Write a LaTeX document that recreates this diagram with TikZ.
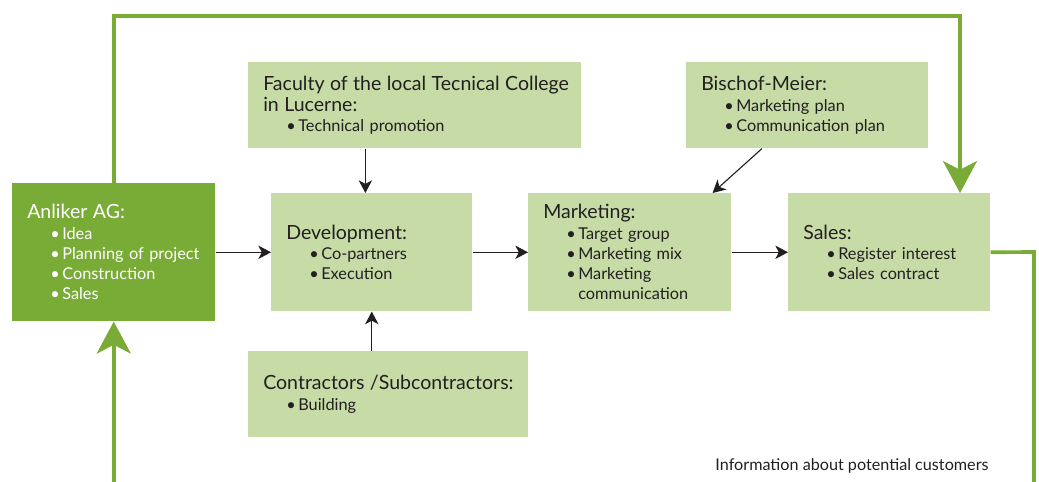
\documentclass[tikz,border=0pt]{standalone}
\usepackage{fontspec}
\setmainfont{Lato}
\usepackage{xcolor}
\usepackage{tikz}
\usetikzlibrary{arrows.meta,positioning,calc}

\definecolor{dgreen}{RGB}{121,172,54}
\definecolor{lgreen}{RGB}{198,219,166}
\definecolor{ink}{RGB}{35,31,32}

\newcommand{\hd}[1]{\mbox{\fontsize{13.9}{14.4}\selectfont #1}}
\newcommand{\itm}[1]{\\\hspace*{0.575cm}\makebox[0.3cm][l]{\textbullet}#1}

\begin{document}
\begin{tikzpicture}[
    >=Stealth,
    box/.style={fill=lgreen, anchor=north west, inner xsep=0.375cm, inner ysep=0pt, align=left,
                text=ink, font=\fontsize{11.6}{14.4}\selectfont},
    keybox/.style={box, fill=dgreen, text=white},
    arr/.style={-{Stealth[length=9pt, width=9.5pt, inset=2.5pt]}, line width=0.8pt, ink},
    loop/.style={line width=2.6pt, dgreen},
    looparr/.style={loop, -{Stealth[length=0.8cm, width=0.85cm, inset=0.22cm]}},
]
\useasboundingbox (0,0) rectangle (25.975,-12.05);

% ========== Boxes ==========
\node[keybox, text width=4.325cm, minimum height=3.45cm] (anliker) at (0.30,-4.575)
    {\hd{Anliker AG:}\itm{Idea}\itm{Planning of project}\itm{Construction}\itm{Sales}};
\node[box, text width=7.575cm, minimum height=2.15cm] (faculty) at (6.2,-1.55)
    {\hd{Faculty of the local Tecnical College}\\\hd{in Lucerne:}\itm{Technical promotion}};
\node[box, text width=5.3cm, minimum height=2.15cm] (bischof) at (17.15,-1.55)
    {\hd{Bischof-Meier:}\itm{Marketing plan}\itm{Communication plan}};
\node[box, text width=4.275cm, minimum height=2.95cm] (devel) at (6.775,-4.825)
    {\hd{Development:}\itm{Co-partners}\itm{Execution}};
\node[box, text width=4.325cm, minimum height=2.95cm] (market) at (13.2,-4.825)
    {\hd{Marketing:}\itm{Target group}\itm{Marketing mix}\itm{Marketing}\\\hspace*{0.875cm}communication};
\node[box, text width=4.3cm, minimum height=2.95cm] (sales) at (19.7,-4.825)
    {\hd{Sales:}\itm{Register interest}\itm{Sales contract}};
\node[box, text width=6.25cm, minimum height=2.15cm] (contract) at (6.2,-8.775)
    {\hd{Contractors /Subcontractors:}\itm{Building}};

\node[font=\fontsize{11.5}{13}\selectfont, text=ink] (info) at (21.3,-11.65) {Information about potential customers};

% ========== Black arrows ==========
\draw[arr] (anliker.east) -- (devel.west);
\draw[arr] (devel.east) -- (market.west);
\draw[arr] (market.east) -- (sales.west);
\draw[arr] ($(devel.north |- faculty.south)+(-0.16,0)$) -- ($(devel.north)+(-0.16,0)$);
\draw[arr] (devel.south |- contract.north) -- (devel.south);
\draw[arr] ($(bischof.south west)+(1.9,0)$) -- ($(market.north east)+(-0.475,0)$);

% ========== Green feedback loop ==========
\coordinate (topl) at (anliker.north |- 0,-0.4);
\coordinate (topr) at (24.0,-0.4);
\draw[looparr] (anliker.north) -- (topl) -- (topr) -- (topr |- sales.north);
\coordinate (sider) at (25.85,-6.3);
\coordinate (botr) at (25.85,-12.05);
\draw[loop] (sales.east) -- (sider) -- (botr);
\coordinate (botl) at (anliker.south |- 0,-12.05);
\draw[looparr] (botl) -- (anliker.south);

\end{tikzpicture}
\end{document}
